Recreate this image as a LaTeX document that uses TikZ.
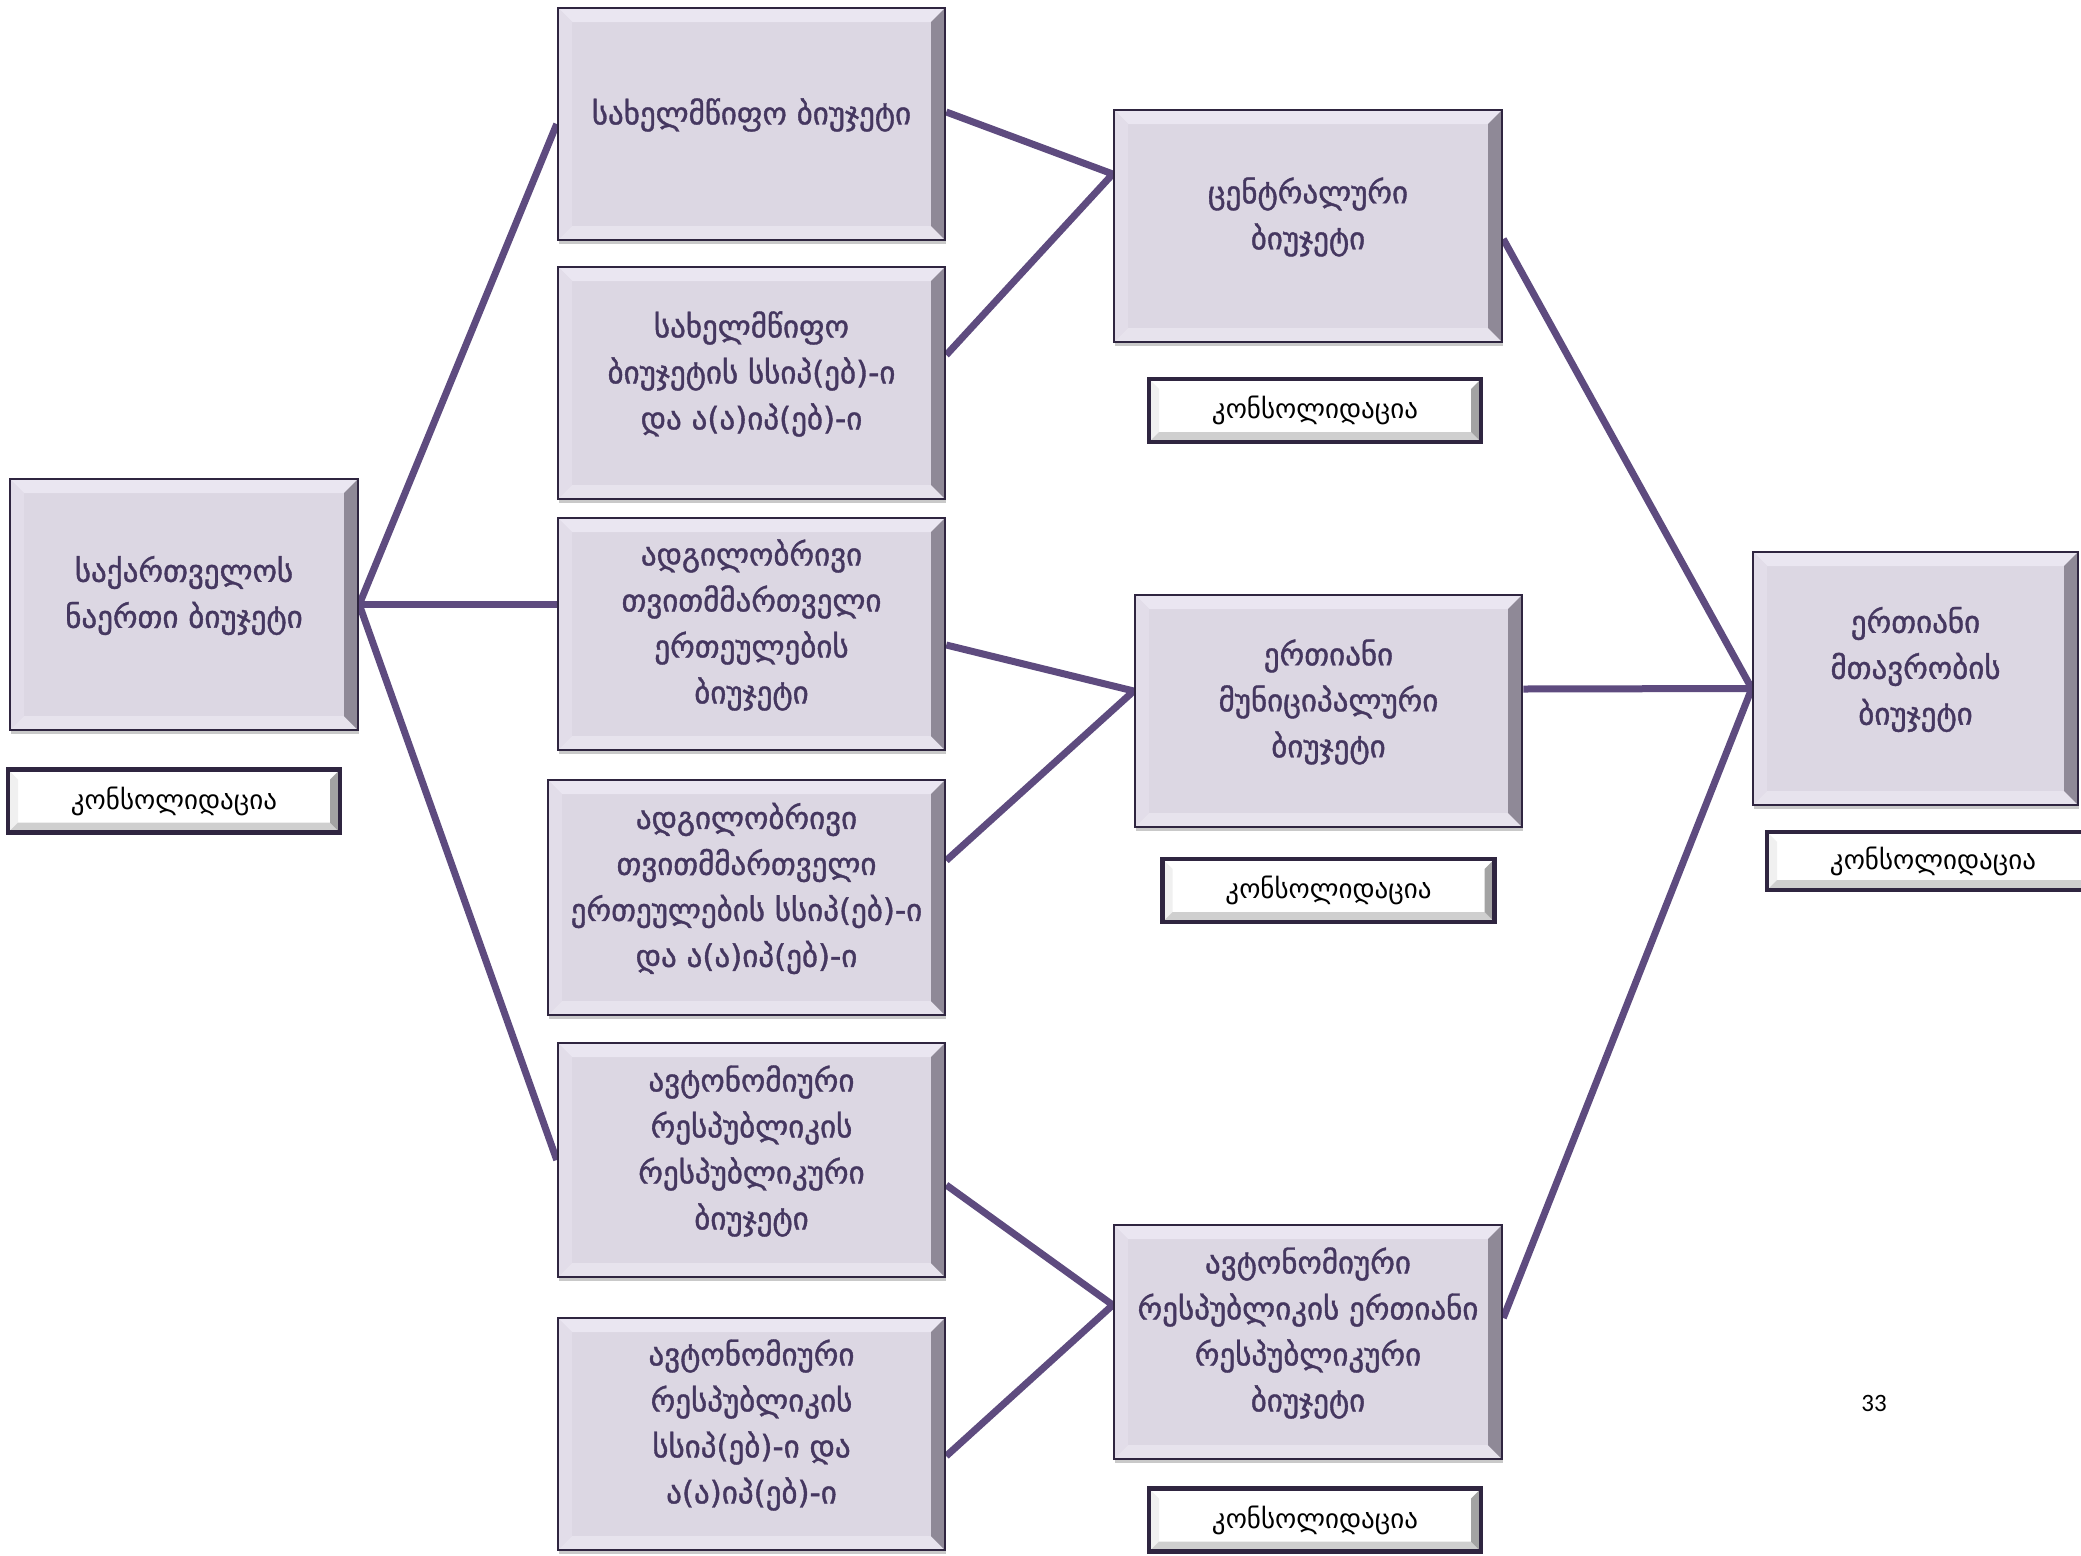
\documentclass[tikz,border=0pt]{standalone}
\usepackage{fontspec}
\setmainfont{DejaVu Sans}
\newfontfamily\geo{DejaVu Sans}[FakeBold=1.2]
\newfontfamily\geolight{DejaVu Sans}
\newfontfamily\numfont{Carlito}
\usetikzlibrary{shadows,backgrounds}
\definecolor{boxfill}{HTML}{DCD7E3}
\definecolor{boxborder}{HTML}{2F2540}
\definecolor{boxtext}{HTML}{453760}
\definecolor{linkcol}{HTML}{5E4B7F}
\definecolor{bevtop}{HTML}{EAE6F1}
\definecolor{bevleft}{HTML}{E2DDE9}
\definecolor{bevbot}{HTML}{E7E3ED}
\definecolor{bevright}{HTML}{8F8997}
\definecolor{cbevright}{HTML}{A3A3A3}
\definecolor{cbevbot}{HTML}{CFCFCF}
\tikzset{
  bevel/.style n args={5}{path picture={
    \def\bw{#1}
    \coordinate (pnw) at (path picture bounding box.north west);
    \coordinate (pne) at (path picture bounding box.north east);
    \coordinate (psw) at (path picture bounding box.south west);
    \coordinate (pse) at (path picture bounding box.south east);
    \fill[#2] (pnw) -- (pne) -- ([xshift=-\bw,yshift=-\bw]pne) -- ([xshift=\bw,yshift=-\bw]pnw) -- cycle;
    \fill[#3] (pnw) -- (psw) -- ([xshift=\bw,yshift=\bw]psw) -- ([xshift=\bw,yshift=-\bw]pnw) -- cycle;
    \fill[#4] (psw) -- (pse) -- ([xshift=-\bw,yshift=\bw]pse) -- ([xshift=\bw,yshift=\bw]psw) -- cycle;
    \fill[#5] (pne) -- (pse) -- ([xshift=-\bw,yshift=\bw]pse) -- ([xshift=-\bw,yshift=-\bw]pne) -- cycle;
  }},
  bigbox/.style={draw=boxborder, line width=2.5pt, fill=boxfill, inner sep=0pt,
    bevel={14pt}{bevtop}{bevleft}{bevbot}{bevright},
    drop shadow={shadow xshift=1pt, shadow yshift=-4pt, opacity=0.3, fill=black!70}},
  consbox/.style={draw=boxborder, line width=4.5pt, fill=white, inner sep=0pt,
    minimum width=332pt, minimum height=63pt,
    bevel={10pt}{white}{black!6}{cbevbot}{cbevright},
    font=\geolight\fontsize{27}{30}\selectfont, text=black},
  txt/.style={font=\geo\fontsize{31}{46}\selectfont, text=boxtext, align=center, inner sep=0pt},
  link/.style={draw=linkcol, line width=7pt}
}
\begin{document}
\begin{tikzpicture}[x=1pt,y=-1pt]
\useasboundingbox (0,0) rectangle (2081,1556);
% main boxes
\node[bigbox, minimum width=348pt, minimum height=251pt] (b1) at (184,604.5) {};
\node[bigbox, minimum width=387pt, minimum height=232pt] (b2) at (751.5,124) {};
\node[bigbox, minimum width=387pt, minimum height=232pt] (b3) at (751.5,383) {};
\node[bigbox, minimum width=387pt, minimum height=232pt] (b4) at (751.5,634) {};
\node[bigbox, minimum width=397pt, minimum height=235pt] (b5) at (746.5,897.5) {};
\node[bigbox, minimum width=387pt, minimum height=234pt] (b6) at (751.5,1160) {};
\node[bigbox, minimum width=387pt, minimum height=232pt] (b7) at (751.5,1434) {};
\node[bigbox, minimum width=388pt, minimum height=232pt] (b8) at (1308,226) {};
\node[bigbox, minimum width=387pt, minimum height=232pt] (b9) at (1328.5,711) {};
\node[bigbox, minimum width=388pt, minimum height=234pt] (b10) at (1308,1342) {};
\node[bigbox, minimum width=325pt, minimum height=253pt] (b11) at (1915.5,678.5) {};
% texts
\node[txt] (t1) at ([yshift=9pt]b1.center) {საქართველოს\\ნაერთი ბიუჯეტი};
\node[txt] (t2) at ([yshift=9pt]b2.center) {სახელმწიფო ბიუჯეტი};
\node[txt] (t3) at ([yshift=9pt]b3.center) {სახელმწიფო\\ბიუჯეტის სსიპ(ებ)-ი\\და ა(ა)იპ(ებ)-ი};
\node[txt] (t4) at ([yshift=9pt]b4.center) {ადგილობრივი\\თვითმმართველი\\ერთეულების\\ბიუჯეტი};
\node[txt] (t5) at ([yshift=9pt]b5.center) {ადგილობრივი\\თვითმმართველი\\ერთეულების სსიპ(ებ)-ი\\და ა(ა)იპ(ებ)-ი};
\node[txt] (t6) at ([yshift=9pt]b6.center) {ავტონომიური\\რესპუბლიკის\\რესპუბლიკური\\ბიუჯეტი};
\node[txt] (t7) at ([yshift=9pt]b7.center) {ავტონომიური\\რესპუბლიკის\\სსიპ(ებ)-ი და\\ა(ა)იპ(ებ)-ი};
\node[txt] (t8) at ([yshift=9pt]b8.center) {ცენტრალური\\ბიუჯეტი};
\node[txt] (t9) at ([yshift=9pt]b9.center) {ერთიანი\\მუნიციპალური\\ბიუჯეტი};
\node[txt] (t10) at ([yshift=9pt]b10.center) {ავტონომიური\\რესპუბლიკის ერთიანი\\რესპუბლიკური\\ბიუჯეტი};
\node[txt] (t11) at ([yshift=9pt]b11.center) {ერთიანი\\მთავრობის\\ბიუჯეტი};
% consolidation labels
\node[consbox] (c1) at (174,801) {კონსოლიდაცია};
\node[consbox] (c8) at (1315,410.5) {კონსოლიდაცია};
\node[consbox] (c9) at (1328.5,890.5) {კონსოლიდაცია};
\node[consbox] (c10) at (1315,1520) {კონსოლიდაცია};
\node[consbox, minimum height=58pt] (c11) at (1933,861) {კონსოლიდაცია};
% page number
\node[font=\numfont\fontsize{25}{30}\selectfont, text=black, inner sep=0pt] (pg) at (1874,1403) {33};
% connectors
\begin{scope}[on background layer]
\draw[link] (b2.west) -- (b1.east) -- (b6.west);
\draw[link] (b1.east) -- (b4.west |- b1.east);
\draw[link] ([yshift=12pt]b2.east) -- ([yshift=52pt]b8.west) -- ([yshift=28pt]b3.east);
\draw[link] ([yshift=-11pt]b4.east) -- ([yshift=20pt]b9.west) -- ([yshift=37pt]b5.east);
\draw[link] ([yshift=-25pt]b6.east) -- ([yshift=37pt]b10.west) -- ([yshift=-22pt]b7.east);
\draw[link] ([yshift=-13pt]b8.east) -- ([yshift=-10pt]b11.west) -- ([yshift=24pt]b10.east);
\draw[link] ([yshift=22pt]b9.east) -- ([yshift=-10pt]b11.west);
\end{scope}
\end{tikzpicture}
\end{document}
